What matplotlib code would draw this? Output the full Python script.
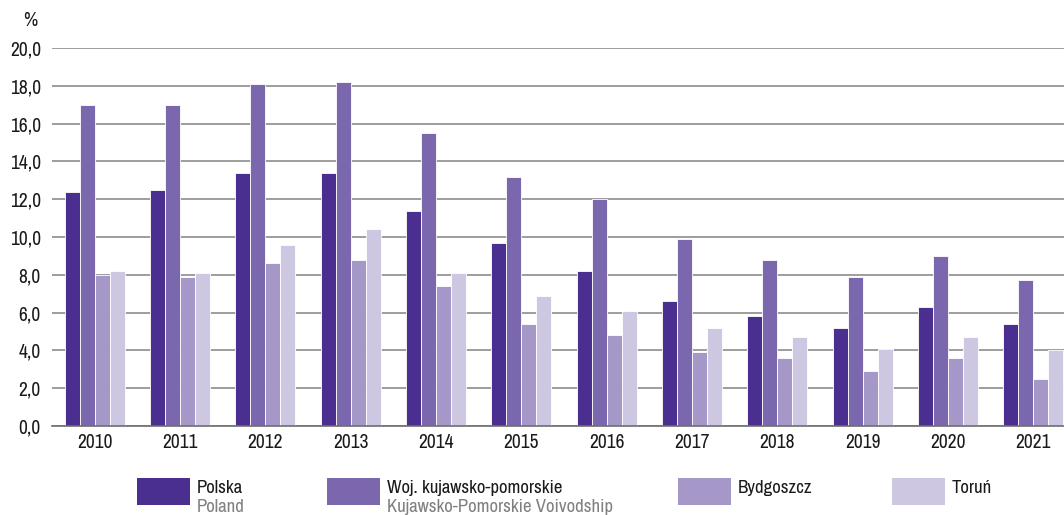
import numpy as np
import matplotlib.pyplot as plt
from matplotlib import font_manager
from matplotlib.patches import Rectangle

years = ['2010', '2011', '2012', '2013', '2014', '2015', '2016', '2017', '2018', '2019', '2020', '2021']
polska = [12.4, 12.5, 13.4, 13.4, 11.4, 9.7, 8.2, 6.6, 5.8, 5.2, 6.3, 5.4]
kujawsko = [17.0, 17.0, 18.1, 18.2, 15.5, 13.2, 12.0, 9.9, 8.8, 7.9, 9.0, 7.7]
bydgoszcz = [8.0, 7.9, 8.6, 8.8, 7.4, 5.4, 4.8, 3.9, 3.6, 2.9, 3.6, 2.5]
torun = [8.2, 8.1, 9.6, 10.4, 8.1, 6.9, 6.1, 5.2, 4.7, 4.1, 4.7, 4.0]

series = [polska, kujawsko, bydgoszcz, torun]
colors = ['#4a2f91', '#7b67ae', '#a598c8', '#cdc7e2']
labels_pl = ['Polska', 'Woj. kujawsko-pomorskie', 'Bydgoszcz', 'Toruń']
labels_en = ['Poland', 'Kujawsko-Pomorskie Voivodship', '', '']

# look for a condensed face, the original uses a narrow font
narrow = None
for f in font_manager.fontManager.ttflist:
    if 'Narrow' in f.name or 'Condensed' in f.name:
        narrow = f.name
        break
if narrow:
    plt.rcParams['font.family'] = [narrow, 'DejaVu Sans']
    fs = 14
else:
    plt.rcParams['font.family'] = ['DejaVu Sans']
    plt.rcParams['font.stretch'] = 'condensed'
    fs = 11

fig = plt.figure(figsize=(10.64, 5.15), dpi=100)
ax = fig.add_axes([52 / 1064, 89 / 515, 1 - 52 / 1064, 378 / 515])

x = np.arange(len(years))
w = 0.176
for i, (vals, col) in enumerate(zip(series, colors)):
    ax.bar(x + (i - 1.5) * w, vals, width=w, color=col, edgecolor='white', linewidth=0.6, zorder=3)

ax.set_xlim(-0.5, 11.36)
ax.set_ylim(0, 20)
ax.set_yticks(np.arange(0, 20.1, 2))
ax.set_yticklabels([f'{v:.1f}'.replace('.', ',') for v in np.arange(0, 20.1, 2)], fontsize=fs, color='#1a1a1a')
ax.set_xticks(x)
ax.set_xticklabels(years, fontsize=fs, color='#1a1a1a')
ax.tick_params(length=0, pad=5)
ax.tick_params(axis='y', pad=8)
ax.grid(axis='y', color='#8c8c8c', linewidth=1.2, zorder=0)
for s in ['top', 'right', 'left']:
    ax.spines[s].set_visible(False)
ax.spines['bottom'].set_color('#6e6e6e')
ax.spines['bottom'].set_linewidth(1.2)
ax.spines['bottom'].set_zorder(4)

fig.text(30 / 1064, 1 - 20 / 515, '%', fontsize=fs, ha='center', va='center', color='#1a1a1a')

# legend
sq_x = [137, 327, 678, 892]
for sx, col, lp, le in zip(sq_x, colors, labels_pl, labels_en):
    fig.patches.append(Rectangle((sx / 1064, 1 - 505 / 515), 53 / 1064, 27 / 515,
                                 transform=fig.transFigure, facecolor=col, edgecolor='none'))
    fig.text((sx + 60) / 1064, 1 - 488 / 515, lp, fontsize=fs - 0.5, va='center', ha='left', color='#1a1a1a')
    if le:
        fig.text((sx + 60) / 1064, 1 - 507 / 515, le, fontsize=fs - 0.5, va='center', ha='left', color='#808080')

fig.savefig('out.png', dpi=100)
